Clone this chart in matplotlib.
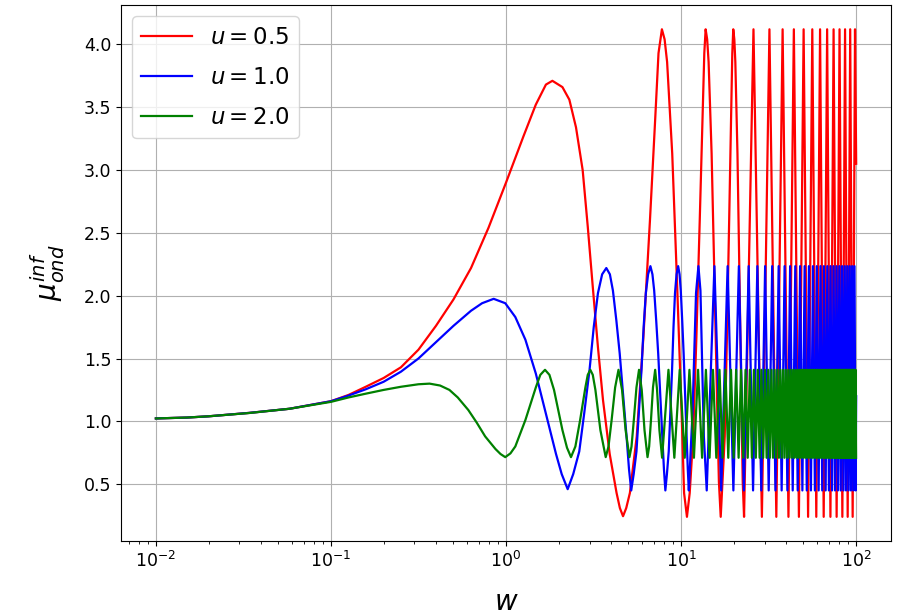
import numpy as np
import matplotlib
matplotlib.use("Agg")
import matplotlib.pyplot as plt

# ---- sampled curves (w, mu) for the slow part of each response ----
RED_W = [0.01, 0.015, 0.02, 0.034, 0.058, 0.1, 0.126, 0.158, 0.2, 0.251,
         0.316, 0.398, 0.501, 0.631, 0.794, 1.0, 1.259, 1.479, 1.69, 1.84,
         2.10, 2.30, 2.51, 2.74, 2.93, 3.13, 3.35, 3.58, 3.91, 4.28, 4.47, 4.66,
         4.86, 5.10, 5.58, 6.09, 6.64, 7.11, 7.43, 7.77, 8.05, 8.32, 8.90, 9.50,
         10.10, 10.40, 10.80, 11.20, 11.72, 12.23, 12.78, 13.25, 13.57, 13.81,
         14.09, 14.36, 14.94, 15.54, 16.14, 16.44, 16.84, 17.76, 18.27, 18.82,
         19.29, 19.61, 19.86, 20.14, 20.41, 20.99, 21.59, 22.19, 22.49, 22.89]
RED_MU = [1.023, 1.03, 1.04, 1.067, 1.10, 1.16, 1.21, 1.275, 1.345, 1.43,
          1.57, 1.76, 1.97, 2.22, 2.54, 2.90, 3.27, 3.52, 3.68, 3.71,
          3.66, 3.56, 3.34, 3.00, 2.55, 2.07, 1.59, 1.17, 0.74, 0.43, 0.31, 0.245,
          0.31, 0.43, 0.88, 1.67, 2.60, 3.40, 3.93, 4.12, 4.04, 3.86, 3.13, 2.07,
          1.01, 0.43, 0.24, 0.43, 0.88, 1.67, 2.60, 3.40, 3.93, 4.12,
          4.04, 3.86, 3.13, 2.07, 1.01, 0.52, 0.24, 0.88, 1.67, 2.60,
          3.40, 3.93, 4.12, 4.04, 3.86, 3.13, 2.07, 1.01, 0.52, 0.24]

BLUE_W = [0.01, 0.015, 0.02, 0.034, 0.058, 0.1, 0.126, 0.158, 0.2, 0.251,
          0.316, 0.398, 0.501, 0.631, 0.73, 0.85, 0.99, 1.13, 1.29, 1.48, 1.69,
          1.93, 2.08, 2.25, 2.42, 2.62, 2.80, 3.00, 3.17, 3.35, 3.54, 3.74, 3.92,
          4.08, 4.27, 4.46, 4.67, 4.88, 5.04, 5.19, 5.36, 5.56, 5.74, 5.94, 6.11,
          6.29, 6.48, 6.68, 6.86, 7.02, 7.21, 7.40, 7.61, 7.82, 7.98, 8.13, 8.30,
          8.50, 8.68, 8.88, 9.05, 9.23, 9.42, 9.62, 9.80, 9.96, 10.15, 10.34,
          10.55, 10.76, 10.92, 11.07, 11.62, 12.17, 12.56, 12.90, 13.49, 14.01]
BLUE_MU = [1.023, 1.03, 1.04, 1.067, 1.10, 1.16, 1.205, 1.255, 1.315, 1.395,
           1.50, 1.63, 1.76, 1.88, 1.94, 1.975, 1.94, 1.83, 1.65, 1.38, 1.06,
           0.74, 0.58, 0.46, 0.58, 0.76, 1.07, 1.41, 1.75, 2.02, 2.17, 2.22, 2.17,
           2.04, 1.80, 1.54, 1.20, 0.88, 0.62, 0.45, 0.58, 0.76, 1.07, 1.41, 1.75,
           2.02, 2.17, 2.235, 2.17, 2.04, 1.80, 1.54, 1.20, 0.88, 0.62, 0.45, 0.58,
           0.76, 1.07, 1.41, 1.75, 2.02, 2.17, 2.235, 2.17, 2.04, 1.80, 1.54,
           1.20, 0.88, 0.62, 0.45, 1.07, 2.02, 2.235, 2.04, 0.88, 0.45]

GREEN_W = [0.01, 0.015, 0.02, 0.034, 0.058, 0.1, 0.126, 0.158, 0.2, 0.251,
           0.316, 0.366, 0.42, 0.475, 0.53, 0.609, 0.68, 0.76, 0.87, 0.93, 0.99,
           1.06, 1.13, 1.29, 1.48, 1.57, 1.67, 1.77, 1.88, 2.10, 2.23, 2.35, 2.49,
           2.65, 2.84, 2.93, 3.03, 3.13, 3.24, 3.46, 3.71, 3.85, 4.01, 4.20, 4.39,
           4.60, 4.82, 5.07, 5.21, 5.37, 5.56, 5.75, 5.96, 6.18, 6.43, 6.57, 6.73,
           6.91, 7.29, 7.52]
GREEN_MU = [1.023, 1.03, 1.04, 1.066, 1.10, 1.155, 1.19, 1.22, 1.25, 1.275,
            1.295, 1.30, 1.285, 1.25, 1.19, 1.09, 0.99, 0.88, 0.78, 0.74, 0.715,
            0.745, 0.80, 1.01, 1.27, 1.37, 1.41, 1.37, 1.25, 0.93, 0.79, 0.715,
            0.80, 1.01, 1.27, 1.37, 1.41, 1.37, 1.25, 0.93, 0.715, 0.80, 1.01,
            1.27, 1.41, 1.25, 0.93, 0.715, 0.80, 1.01, 1.27, 1.41, 1.25, 0.93,
            0.715, 0.80, 1.01, 1.27, 1.25, 0.93]

# ---- fast part: positions of maxima / minima and the envelope levels ----
RED_PEAKS = [25.91, 31.96, 38.01, 44.06, 50.11, 56.16, 62.21, 68.26,
             74.31, 80.36, 86.41, 92.46, 98.51]
RED_TROUGHS = [28.94, 34.99, 41.04, 47.09, 53.14, 59.19, 65.24, 71.29,
               77.34, 83.39, 89.44, 95.49]
RED_TOP, RED_BOTTOM = 4.12, 0.24
RED_END = (100.0, 3.05)

BLUE_PEAKS = [15.50, 18.44, 21.38, 24.32, 27.26, 30.20, 33.14, 36.08,
              39.02, 41.96, 44.90, 47.84, 50.78, 53.72, 56.66, 59.60, 62.54,
              65.48, 68.42, 71.36, 74.30, 77.24, 80.18, 83.12, 86.06, 89.00,
              91.94, 94.88, 97.82]
BLUE_TROUGHS = [16.95, 19.89, 22.83, 25.77, 28.71, 31.65, 34.59, 37.53,
                40.47, 43.41, 46.35, 49.29, 52.23, 55.17, 58.11, 61.05, 63.99,
                66.93, 69.87, 72.81, 75.75, 78.69, 81.63, 84.57, 87.51, 90.45,
                93.39, 96.33, 99.27]
BLUE_TOP, BLUE_BOTTOM = 2.235, 0.45
BLUE_END = (100.0, 1.2)

GREEN_PEAKS = [7.11, 8.47, 9.82, 11.16, 12.50, 13.86, 15.21, 16.57, 17.92,
               19.28, 20.63, 21.99, 23.34, 24.70, 26.05, 27.41, 28.76, 30.12,
               31.47, 32.83, 34.18, 35.54, 36.89, 38.25, 39.60, 40.96, 42.31,
               43.67, 45.02, 46.38, 47.73, 49.09, 50.44, 51.80, 53.15, 54.51,
               55.86, 57.22, 58.57, 59.93, 61.28, 62.64, 63.99, 65.35, 66.70,
               68.06, 69.41, 70.77, 72.12, 73.48, 74.83, 76.19, 77.54, 78.90,
               80.25, 81.61, 82.96, 84.32, 85.67, 87.03, 88.38, 89.74, 91.09,
               92.45, 93.80, 95.16, 96.51, 97.87, 99.22]
GREEN_TROUGHS = [7.79, 9.15, 10.49, 11.84, 13.18, 14.54, 15.89, 17.25, 18.60,
                 19.96, 21.31, 22.67, 24.02, 25.38, 26.73, 28.09, 29.44, 30.80,
                 32.15, 33.51, 34.86, 36.22, 37.57, 38.93, 40.28, 41.64, 42.99,
                 44.35, 45.70, 47.06, 48.41, 49.77, 51.12, 52.48, 53.83, 55.19,
                 56.54, 57.90, 59.25, 60.61, 61.96, 63.32, 64.67, 66.03, 67.38,
                 68.74, 70.09, 71.45, 72.80, 74.16, 75.51, 76.87, 78.22, 79.58,
                 80.93, 82.29, 83.64, 85.00, 86.35, 87.71, 89.06, 90.42, 91.77,
                 93.13, 94.48, 95.84, 97.19, 98.55, 99.90]
GREEN_TOP, GREEN_BOTTOM = 1.41, 0.71
GREEN_END = None

LABELS = ["$u = 0.5$", "$u = 1.0$", "$u = 2.0$"]
COLORS = ["r", "b", "g"]


def assemble(w, mu, peaks, troughs, top, bottom, end):
    """Join the slow samples with the extrema of the fast part, sorted in w."""
    ws = list(w) + list(peaks) + list(troughs)
    ms = list(mu) + [top] * len(peaks) + [bottom] * len(troughs)
    if end is not None:
        ws.append(end[0])
        ms.append(end[1])
    ws = np.asarray(ws)
    ms = np.asarray(ms)
    order = np.argsort(ws)
    return ws[order], ms[order]


def main():
    curves = [
        assemble(RED_W, RED_MU, RED_PEAKS, RED_TROUGHS, RED_TOP, RED_BOTTOM, RED_END),
        assemble(BLUE_W, BLUE_MU, BLUE_PEAKS, BLUE_TROUGHS, BLUE_TOP, BLUE_BOTTOM, BLUE_END),
        assemble(GREEN_W, GREEN_MU, GREEN_PEAKS, GREEN_TROUGHS, GREEN_TOP, GREEN_BOTTOM, GREEN_END),
    ]

    fig = plt.figure(figsize=(9.02, 6.15), dpi=100)
    ax = fig.add_axes([0.134, 0.120, 0.854, 0.872])

    for (w, mu), lab, col in zip(curves, LABELS, COLORS):
        ax.plot(w, mu, color=col, lw=1.6, label=lab)

    ax.set_xscale("log")
    ax.grid(True)
    ax.tick_params(labelsize=12.5)
    ax.set_xlabel("$w$", fontsize=20, labelpad=12)
    ax.set_ylabel(r"$\mu_{ond}^{inf}$", fontsize=20, labelpad=12)
    ax.legend(loc="upper left", fontsize=16.5, handlelength=2.2, labelspacing=0.75)

    fig.savefig("out.png", dpi=100)


if __name__ == "__main__":
    main()
